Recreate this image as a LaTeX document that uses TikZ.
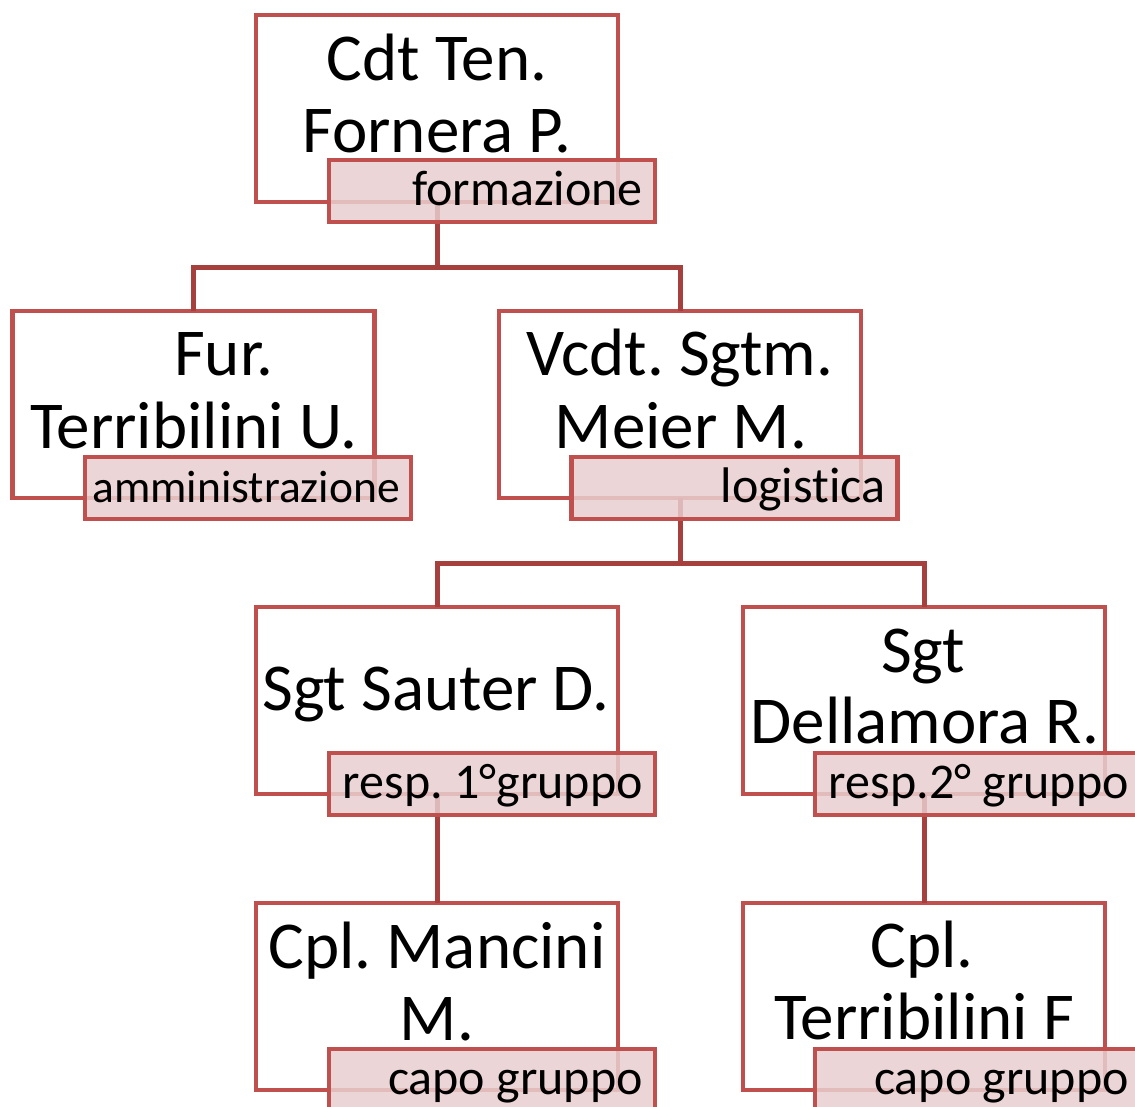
\documentclass[tikz,border=0pt]{standalone}
\usepackage{fontspec}
\setmainfont{Carlito}[Ligatures=NoCommon]
\definecolor{boxred}{RGB}{192,80,77}
\definecolor{linkred}{RGB}{166,64,61}
\definecolor{tagfill}{RGB}{232,206,207}
\frenchspacing
\begin{document}
\frenchspacing
\begin{tikzpicture}[x=1pt,y=-1pt,
  unitbox/.style={draw=boxred, line width=4.5pt, fill=white, rectangle, minimum width=362pt, minimum height=187pt, inner sep=0pt, outer sep=0pt},
  tagbox/.style={draw=boxred, line width=4.5pt, fill=tagfill, fill opacity=0.85, rectangle, minimum width=326pt, minimum height=62pt, inner sep=0pt, outer sep=0pt},
  persontext/.style={anchor=base, font=\fontsize{67}{72}\selectfont, inner sep=0pt},
  roletext/.style={anchor=base east, font=\fontsize{50}{56}\selectfont, inner sep=0pt},
  smallrole/.style={roletext, font=\fontsize{45.5}{50}\selectfont},
  linkline/.style={draw=linkred, line width=5pt}]
\useasboundingbox (0,0) rectangle (1135,1106);
\clip (0,0) rectangle (1135,1106);
% bus coordinates
\coordinate (b1) at (437,267);
\coordinate (b2) at (680,563);
% units
\node[unitbox] (top) at (437,108.5) {};
\node[unitbox] (fur) at (193.5,404.5) {};
\node[unitbox] (vcdt) at (680,404.5) {};
\node[unitbox] (sauter) at (437,700.5) {};
\node[unitbox] (della) at (924,700.5) {};
\node[unitbox] (manc) at (437,996.5) {};
\node[unitbox] (terf) at (924,996.5) {};
% connectors (drawn beneath tags)
\draw[linkline] (top.south) -- (b1);
\draw[linkline] (fur.north) |- (b1) -| (vcdt.north);
\draw[linkline] (vcdt.south) -- (b2);
\draw[linkline] (sauter.north) |- (b2) -| (della.north);
\draw[linkline] (sauter.south) -- (manc.north);
\draw[linkline] (della.south) -- (terf.north);
% names
\node[persontext] (t1) at (437,80) {Cdt Ten.};
\node[persontext] (t2) at (437,152) {Fornera P.};
\node[persontext] (f1) at (224,375) {Fur.};
\node[persontext] (f2) at (194,448) {Terribilini U.};
\node[persontext] (v1) at (680,375) {Vcdt. Sgtm.};
\node[persontext] (v2) at (681,448) {Meier M.};
\node[persontext] (s1) at (436,710) {Sgt Sauter D.};
\node[persontext] (d1) at (923,672) {Sgt};
\node[persontext] (d2) at (925,743) {Dellamora R.};
\node[persontext] (m1) at (437,968) {Cpl. Mancini};
\node[persontext] (m2) at (437,1040) {M.};
\node[persontext] (c1) at (922,967) {Cpl.};
\node[persontext] (c2) at (924,1039) {Terribilini F};
% tags
\node[tagbox] (toptag) at (492,191) {};
\node[tagbox] (furtag) at (248,488) {};
\node[tagbox] (vcdttag) at (734.5,488) {};
\node[tagbox] (sautertag) at (492,784) {};
\node[tagbox] (dellatag) at (978,784) {};
\node[tagbox] (manctag) at (492,1080) {};
\node[tagbox] (terftag) at (978,1080) {};
\node[roletext] (r1) at ([xshift=-12pt,yshift=-45pt]toptag.north east) {formazione};
\node[smallrole] (r2) at ([xshift=-11pt,yshift=-45pt]furtag.north east) {amministrazione};
\node[roletext] (r3) at ([xshift=-12pt,yshift=-45pt]vcdttag.north east) {logistica};
\node[roletext] (r4) at ([xshift=-12pt,yshift=-45pt]sautertag.north east) {resp. 1°gruppo};
\node[roletext] (r5) at ([xshift=-12pt,yshift=-45pt]dellatag.north east) {resp.2° gruppo};
\node[roletext] (r6) at ([xshift=-12pt,yshift=-45pt]manctag.north east) {capo gruppo};
\node[roletext] (r7) at ([xshift=-12pt,yshift=-45pt]terftag.north east) {capo gruppo};
\end{tikzpicture}
\end{document}
